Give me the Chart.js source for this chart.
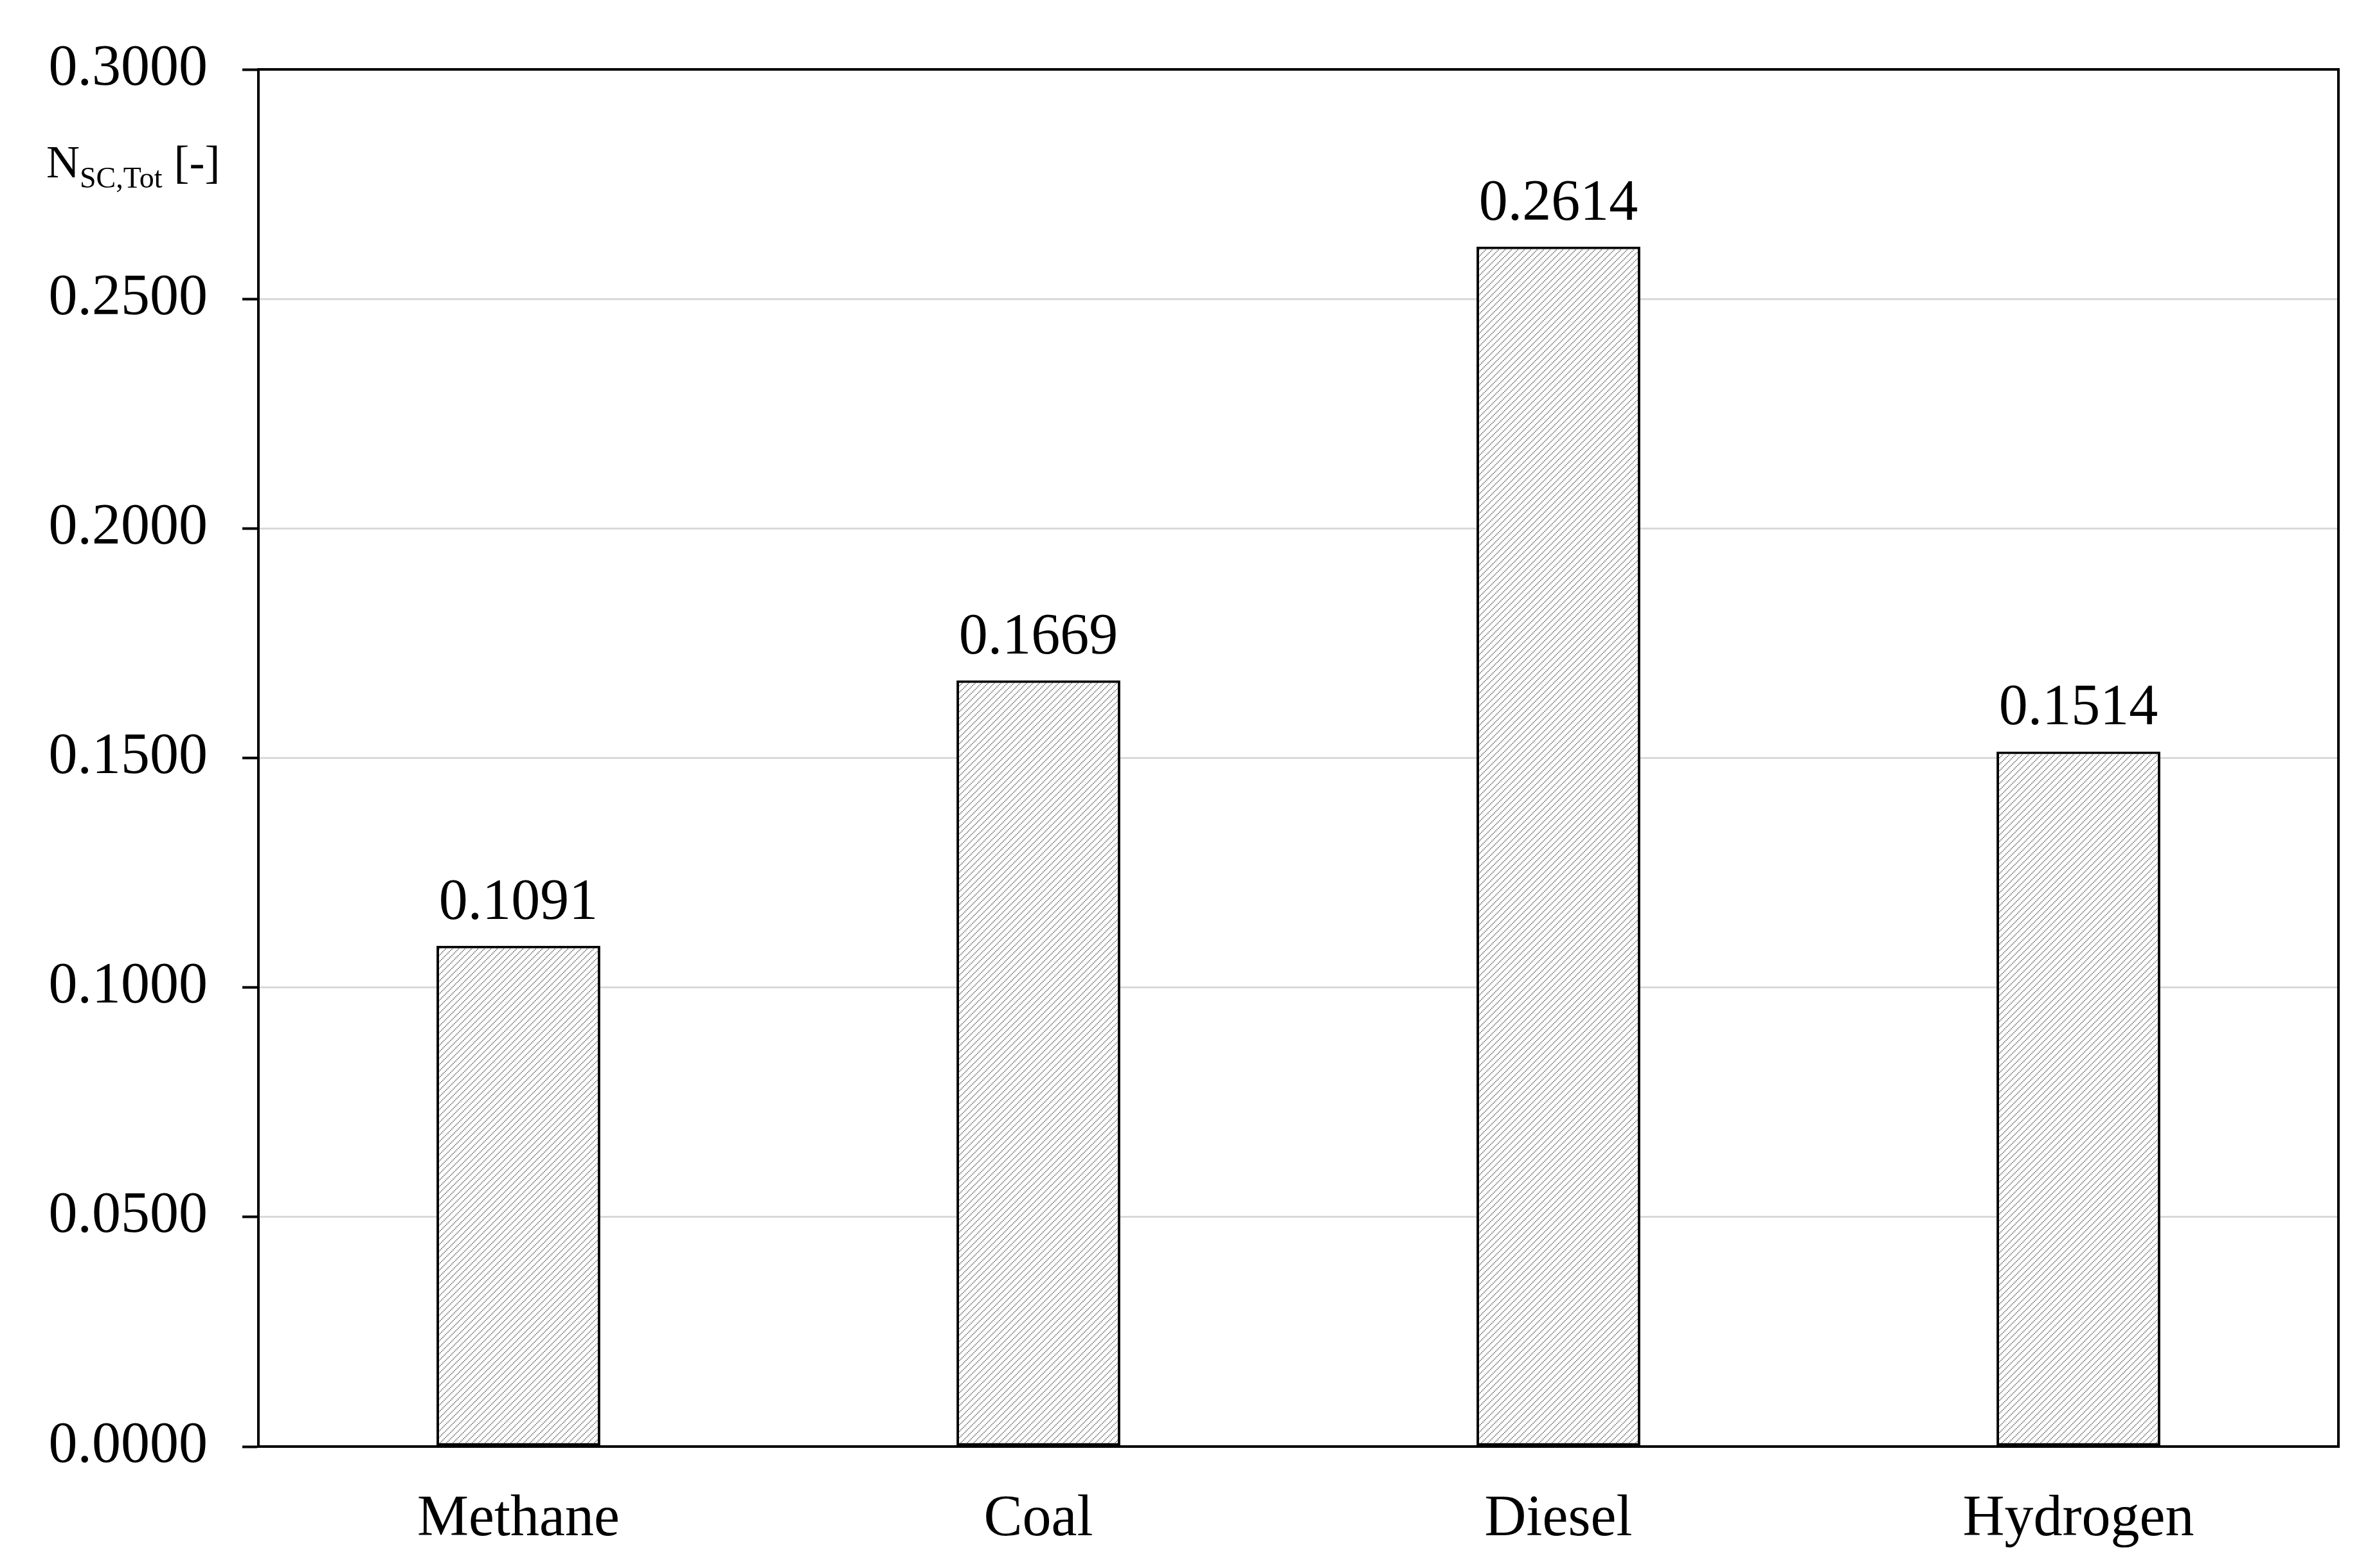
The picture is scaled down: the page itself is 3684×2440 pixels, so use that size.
<!DOCTYPE html>
<html>
<head>
<meta charset="utf-8">
<script src="https://cdn.jsdelivr.net/npm/chart.js@4"></script>
<style>
  html, body { margin: 0; padding: 0; background: #ffffff; }
  #wrap { width: 3684px; height: 2440px; }
</style>
</head>
<body>
<div id="wrap"><canvas id="c" width="3684" height="2440"></canvas></div>
<script>
// ---- data ----
const categories = ["Methane", "Coal", "Diesel", "Hydrogen"];
const values = [0.1091, 0.1669, 0.2614, 0.1514];
const yMin = 0;
const yMax = 0.3;
const yStep = 0.05;
const yTitleMain = "N";
const yTitleSub = "SC,Tot";
const yTitleUnit = " [-]";

const FONT = "'Liberation Serif', 'Times New Roman', serif";

// hatch pattern
function makePattern() {
  const t = document.createElement('canvas');
  t.width = 10; t.height = 10;
  const g = t.getContext('2d');
  g.fillStyle = '#ffffff';
  g.fillRect(0, 0, 10, 10);
  g.fillStyle = '#9e9e9e';
  for (let i = 0; i < 5; i++) {
    g.fillRect(2 * i, 8 - 2 * i, 2, 2);
  }
  return document.getElementById('c').getContext('2d').createPattern(t, 'repeat');
}

const framePlugin = {
  id: 'frame',
  afterDatasetsDraw(chart) {
    const ctx = chart.ctx;
    const a = chart.chartArea;
    ctx.save();
    // top and right border
    ctx.strokeStyle = '#000';
    ctx.lineWidth = 4;
    ctx.beginPath();
    ctx.moveTo(a.left - 2, a.top);
    ctx.lineTo(a.right, a.top);
    ctx.lineTo(a.right, a.bottom + 2);
    ctx.stroke();
    // value labels
    ctx.fillStyle = '#000';
    ctx.font = '90px ' + FONT;
    ctx.textAlign = 'center';
    ctx.textBaseline = 'alphabetic';
    const meta = chart.getDatasetMeta(0);
    meta.data.forEach((bar, i) => {
      ctx.fillText(values[i].toFixed(4), bar.x, bar.y - 42);
    });
    // y title with subscript
    ctx.textAlign = 'left';
    let x = 72;
    ctx.font = '72px ' + FONT;
    ctx.fillText(yTitleMain, x, 276);
    x += ctx.measureText(yTitleMain).width;
    ctx.font = '46px ' + FONT;
    ctx.fillText(yTitleSub, x, 292);
    x += ctx.measureText(yTitleSub).width;
    ctx.font = '72px ' + FONT;
    ctx.fillText(yTitleUnit, x, 276);
    ctx.restore();
  }
};

const chart = new Chart(document.getElementById('c'), {
  type: 'bar',
  data: {
    labels: categories,
    datasets: [{
      data: values,
      backgroundColor: makePattern(),
      borderColor: '#000000',
      borderWidth: 4,
      borderSkipped: false,
      categoryPercentage: 1.0,
      barPercentage: 0.315
    }]
  },
  options: {
    responsive: false,
    animation: false,
    devicePixelRatio: 1,
    layout: { padding: { top: 107, right: 46, left: 0, bottom: 0 } },
    plugins: { legend: { display: false }, tooltip: { enabled: false } },
    scales: {
      x: {
        grid: { display: false },
        border: { display: true, color: '#000', width: 4 },
        ticks: { color: '#000', font: { family: FONT, size: 90 }, padding: 52 },
        afterFit(s) { s.height = 189; }
      },
      y: {
        min: yMin,
        max: yMax,
        grid: { color: '#d9d9d9', lineWidth: 3, tickColor: '#000', tickWidth: 4, tickLength: 25, drawTicks: true },
        border: { display: true, color: '#000', width: 4 },
        ticks: {
          stepSize: yStep,
          color: '#000',
          font: { family: FONT, size: 90 },
          padding: 54,
          callback: v => Number(v).toFixed(4)
        },
        afterFit(s) { s.width = 402; }
      }
    }
  },
  plugins: [framePlugin]
});
</script>
</body>
</html>
